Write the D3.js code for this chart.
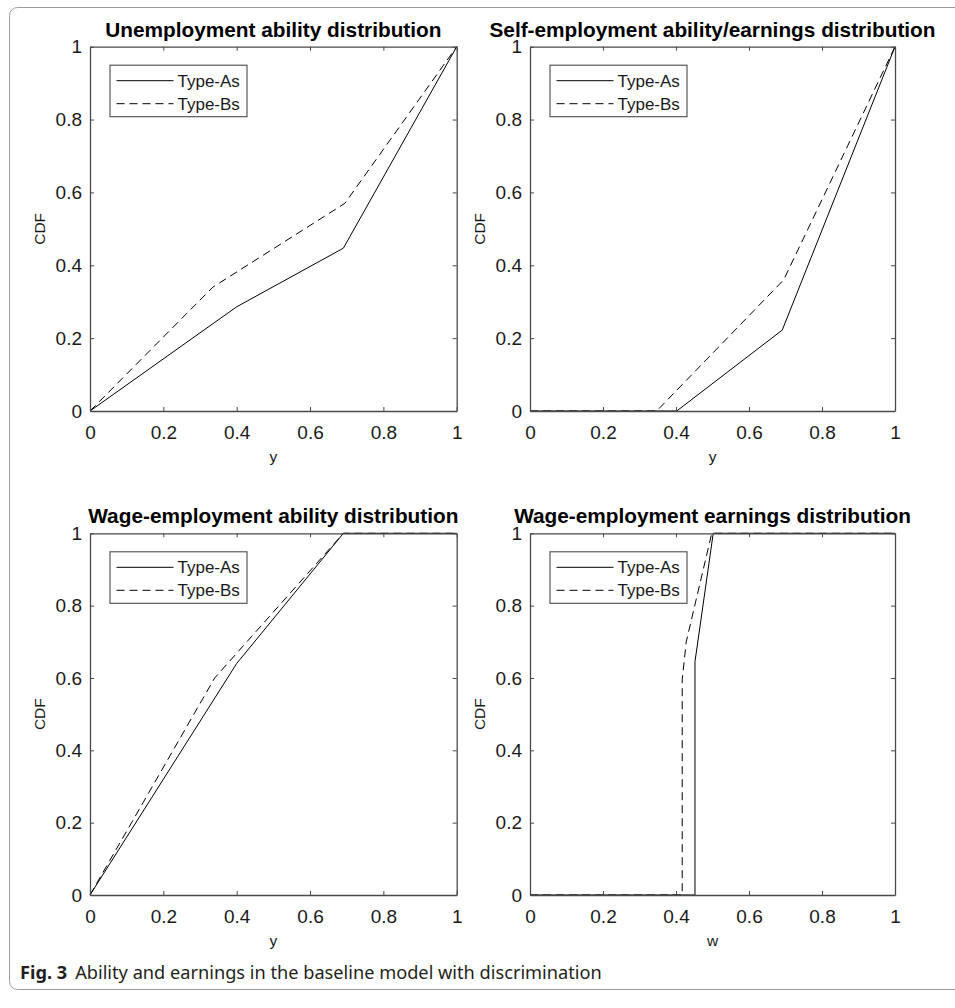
<!DOCTYPE html>
<html>
<head>
<meta charset="utf-8">
<script src="https://cdn.jsdelivr.net/npm/d3@7/dist/d3.min.js"></script>
<style>
  html, body { margin: 0; padding: 0; background: #fff; }
  svg { display: block; }
</style>
</head>
<body>
<svg id="chart" width="955" height="1008"></svg>
<script>
// ---------------- data ----------------
const xTicks = [0, 0.2, 0.4, 0.6, 0.8, 1];
const yTicks = [0, 0.2, 0.4, 0.6, 0.8, 1];
const seriesNames = ["Type-As", "Type-Bs"];
const panelTitles = [
  "Unemployment ability distribution",
  "Self-employment ability/earnings distribution",
  "Wage-employment ability distribution",
  "Wage-employment earnings distribution"
];
const xAxisLabels = ["y", "y", "y", "w"];
const yAxisLabel = "CDF";
const captionBold = "Fig. 3";
const captionText = "Ability and earnings in the baseline model with discrimination";

// Unemployment ability distribution
const unempA_x = [0, 0.40, 0.691, 1];
const unempA_y = [0, 0.286, 0.447, 1];
const unempB_x = [0, 0.335, 0.695, 1];
const unempB_y = [0, 0.34, 0.57, 1];
// Self-employment ability/earnings distribution
const selfA_x = [0, 0.402, 0.691, 1];
const selfA_y = [0, 0, 0.222, 1];
const selfB_x = [0, 0.347, 0.695, 1];
const selfB_y = [0, 0, 0.36, 1];
// Wage-employment ability distribution
const wageAbA_x = [0, 0.40, 0.691, 1];
const wageAbA_y = [0, 0.64, 1, 1];
const wageAbB_x = [0, 0.34, 0.691, 1];
const wageAbB_y = [0, 0.60, 1, 1];
// Wage-employment earnings distribution
const wageErA_x = [0, 0.452, 0.452, 0.502, 1];
const wageErA_y = [0, 0, 0.645, 1, 1];
const wageErB_x = [0, 0.417, 0.417, 0.428, 0.498, 1];
const wageErB_y = [0, 0, 0.595, 0.70, 1, 1];

const panelSeries = [
  [[unempA_x, unempA_y], [unempB_x, unempB_y]],
  [[selfA_x, selfA_y], [selfB_x, selfB_y]],
  [[wageAbA_x, wageAbA_y], [wageAbB_x, wageAbB_y]],
  [[wageErA_x, wageErA_y], [wageErB_x, wageErB_y]]
];

// ---------------- layout ----------------
const svg = d3.select("#chart");
const FONT = "'Liberation Sans', Arial, Helvetica, sans-serif";
const axisColor = "#4a4a4a";
const dashPattern = "8,5";

// frame
svg.append("rect")
  .attr("x", 9.5).attr("y", 7.5)
  .attr("width", 975).attr("height", 982)
  .attr("rx", 8).attr("ry", 8)
  .attr("fill", "none").attr("stroke", "#9c9c9c").attr("stroke-width", 1);

const panels = [
  { x0: 90, x1: 456.7, yTop: 46.7, yBot: 411 },
  { x0: 530, x1: 895, yTop: 46.7, yBot: 411 },
  { x0: 90, x1: 456.7, yTop: 533.3, yBot: 895 },
  { x0: 530, x1: 895, yTop: 533.3, yBot: 895 }
];

const fmt = d => (d === 0 || d === 1) ? String(d) : d3.format(".1f")(d);

panels.forEach((p, i) => {
  const x = d3.scaleLinear().domain([0, 1]).range([p.x0, p.x1]);
  const y = d3.scaleLinear().domain([0, 1]).range([p.yBot, p.yTop]);
  const g = svg.append("g");

  // data lines
  const line = d3.line().x(d => x(d[0])).y(d => y(d[1]));
  panelSeries[i].forEach((s, k) => {
    const pts = s[0].map((v, j) => [v, s[1][j]]);
    g.append("path")
      .attr("d", line(pts))
      .attr("fill", "none")
      .attr("stroke", "#000")
      .attr("stroke-width", 1)
      .attr("stroke-dasharray", k === 1 ? dashPattern : null);
  });

  // axes
  const styleAxis = sel => {
    sel.select(".domain").attr("stroke", axisColor).attr("stroke-width", 1.3);
    sel.selectAll(".tick line").attr("stroke", axisColor).attr("stroke-width", 1);
    sel.selectAll(".tick text").attr("fill", "#1a1a1a")
      .style("font-family", FONT).style("font-size", "19px");
  };
  g.append("g").attr("transform", `translate(0,${p.yBot})`)
    .call(d3.axisBottom(x).tickValues(xTicks).tickFormat(fmt).tickSize(-4).tickSizeOuter(0).tickPadding(15))
    .call(styleAxis);
  g.append("g").attr("transform", `translate(0,${p.yTop})`)
    .call(d3.axisTop(x).tickValues(xTicks).tickFormat("").tickSize(-4).tickSizeOuter(0))
    .call(styleAxis);
  g.append("g").attr("transform", `translate(${p.x0},0)`)
    .call(d3.axisLeft(y).tickValues(yTicks).tickFormat(fmt).tickSize(-4).tickSizeOuter(0).tickPadding(8))
    .call(styleAxis);
  g.append("g").attr("transform", `translate(${p.x1},0)`)
    .call(d3.axisRight(y).tickValues(yTicks).tickFormat("").tickSize(-4).tickSizeOuter(0))
    .call(styleAxis);

  // title
  g.append("text")
    .attr("x", (p.x0 + p.x1) / 2).attr("y", p.yTop - 10)
    .attr("text-anchor", "middle")
    .style("font-family", FONT).style("font-weight", "bold").style("font-size", "20.8px")
    .attr("fill", "#000")
    .text(panelTitles[i]);

  // axis labels
  g.append("text")
    .attr("x", (p.x0 + p.x1) / 2).attr("y", p.yBot + 51)
    .attr("text-anchor", "middle")
    .style("font-family", FONT).style("font-size", "15.5px")
    .attr("fill", "#1a1a1a")
    .text(xAxisLabels[i]);
  const cy = (p.yTop + p.yBot) / 2;
  g.append("text")
    .attr("transform", `translate(${p.x0 - 45},${cy}) rotate(-90)`)
    .attr("text-anchor", "middle")
    .style("font-family", FONT).style("font-size", "15.5px")
    .attr("fill", "#1a1a1a")
    .text(yAxisLabel);

  // legend
  const lx = p.x0 + 20, ly = p.yTop + 18.5;
  const lg = g.append("g");
  lg.append("rect")
    .attr("x", lx).attr("y", ly).attr("width", 137).attr("height", 51.5)
    .attr("fill", "#fff").attr("stroke", axisColor).attr("stroke-width", 1.1);
  seriesNames.forEach((name, k) => {
    const rowY = ly + 15.5 + k * 23;
    lg.append("line")
      .attr("x1", lx + 6.5).attr("x2", lx + 63.5)
      .attr("y1", rowY).attr("y2", rowY)
      .attr("stroke", "#000").attr("stroke-width", 1)
      .attr("stroke-dasharray", k === 1 ? dashPattern : null);
    lg.append("text")
      .attr("x", lx + 67.5).attr("y", rowY + 6)
      .style("font-family", FONT).style("font-size", "17px")
      .attr("fill", "#1a1a1a")
      .text(name);
  });
});

// caption
const cap = svg.append("text")
  .attr("x", 20).attr("y", 979)
  .style("font-family", "'Noto Sans', 'Open Sans', sans-serif")
  .style("font-size", "18.2px")
  .attr("fill", "#231f20");
cap.append("tspan").style("font-weight", "bold").text(captionBold);
cap.append("tspan").attr("dx", 8).text(captionText);
</script>
</body>
</html>
